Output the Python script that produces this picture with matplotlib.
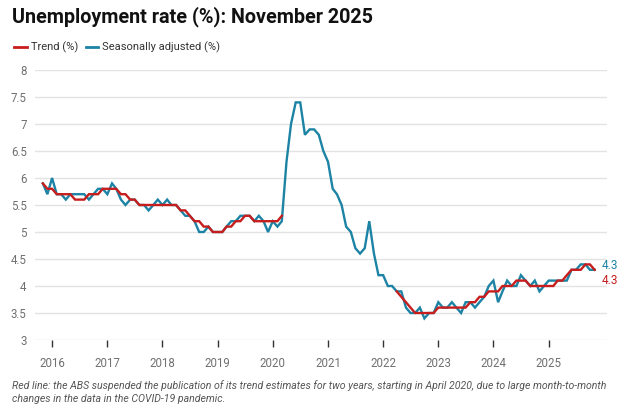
import matplotlib
matplotlib.use("Agg")
import matplotlib.pyplot as plt
import numpy as np
import pandas as pd

# ---- data ----
start_month = "2015-11-01"
seasonally_adjusted = [
    5.9, 5.7, 6.0, 5.7, 5.7, 5.6, 5.7, 5.7, 5.7, 5.7, 5.6, 5.7,
    5.8, 5.8, 5.7, 5.9, 5.8, 5.6, 5.5, 5.6, 5.6, 5.5, 5.5, 5.4,
    5.5, 5.6, 5.5, 5.6, 5.5, 5.5, 5.4, 5.3, 5.3, 5.2, 5.0, 5.0,
    5.1, 5.0, 5.0, 5.0, 5.1, 5.2, 5.2, 5.3, 5.3, 5.3, 5.2, 5.3,
    5.2, 5.0, 5.2, 5.1, 5.2, 6.3, 7.0, 7.4, 7.4, 6.8, 6.9, 6.9,
    6.8, 6.5, 6.3, 5.8, 5.7, 5.5, 5.1, 5.0, 4.7, 4.6, 4.7, 5.2,
    4.6, 4.2, 4.2, 4.0, 4.0, 3.9, 3.9, 3.6, 3.5, 3.5, 3.6, 3.4,
    3.5, 3.5, 3.7, 3.6, 3.6, 3.7, 3.6, 3.5, 3.7, 3.7, 3.6, 3.7,
    3.8, 4.0, 4.1, 3.7, 3.9, 4.1, 4.0, 4.0, 4.2, 4.1, 4.0, 4.1,
    3.9, 4.0, 4.1, 4.1, 4.1, 4.1, 4.1, 4.3, 4.3, 4.4, 4.4, 4.3,
    4.3,
]
nan = float("nan")
trend = [
    5.9, 5.8, 5.8, 5.7, 5.7, 5.7, 5.7, 5.6, 5.6, 5.6, 5.7, 5.7,
    5.7, 5.8, 5.8, 5.8, 5.8, 5.7, 5.7, 5.6, 5.6, 5.5, 5.5, 5.5,
    5.5, 5.5, 5.5, 5.5, 5.5, 5.5, 5.4, 5.4, 5.3, 5.2, 5.2, 5.1,
    5.1, 5.0, 5.0, 5.0, 5.1, 5.1, 5.2, 5.2, 5.3, 5.3, 5.2, 5.2,
    5.2, 5.2, 5.2, 5.2, 5.3, nan, nan, nan, nan, nan, nan, nan,
    nan, nan, nan, nan, nan, nan, nan, nan, nan, nan, nan, nan,
    nan, nan, nan, nan, nan, 3.9, 3.8, 3.7, 3.6, 3.5, 3.5, 3.5,
    3.5, 3.5, 3.6, 3.6, 3.6, 3.6, 3.6, 3.6, 3.6, 3.7, 3.7, 3.8,
    3.8, 3.9, 3.9, 3.9, 4.0, 4.0, 4.0, 4.1, 4.1, 4.1, 4.0, 4.0,
    4.0, 4.0, 4.0, 4.0, 4.1, 4.1, 4.2, 4.3, 4.3, 4.3, 4.4, 4.4,
    4.3,
]
year_ticks = [2016, 2017, 2018, 2019, 2020, 2021, 2022, 2023, 2024, 2025]
y_ticks = [3, 3.5, 4, 4.5, 5, 5.5, 6, 6.5, 7, 7.5, 8]
title = "Unemployment rate (%): November 2025"
legend_labels = ["Trend (%)", "Seasonally adjusted (%)"]
footnote = ("Red line: the ABS suspended the publication of its trend estimates for two years, starting in April 2020, due to large month-to-month\n"
            "changes in the data in the COVID-19 pandemic.")

RED = "#c71e1d"
BLUE = "#1d83a5"

dates = pd.date_range(start_month, periods=len(seasonally_adjusted), freq="MS")

plt.rcParams["font.family"] = ["Roboto", "DejaVu Sans"]

W, H = 640, 409
fig = plt.figure(figsize=(W / 100, H / 100), dpi=100)
ax = fig.add_axes([35 / W, 1 - 340 / H, (607 - 35) / W, (340 - 70) / H])

ax.plot(dates, seasonally_adjusted, color=BLUE, lw=1.7, solid_joinstyle="miter", zorder=3)
ax.plot(dates, trend, color=RED, lw=1.7, solid_joinstyle="miter", zorder=4)

ax.set_ylim(3, 8)
ax.set_xlim(pd.Timestamp("2015-09-10"), pd.Timestamp("2026-01-22"))
ax.set_yticks(y_ticks)
ax.set_yticklabels([f"{v:g}" for v in y_ticks])
ax.set_xticks([pd.Timestamp(f"{y}-01-01") for y in year_ticks])
ax.set_xticklabels([str(y) for y in year_ticks])

ax.grid(axis="y", color="#e3e3e3", lw=1)
ax.set_axisbelow(True)
for s in ax.spines.values():
    s.set_visible(False)
ax.tick_params(axis="y", length=0, pad=6, labelsize=8.3, labelcolor="#707070")
ax.tick_params(axis="x", length=5, width=1, color="#333333", pad=7,
               labelsize=8.3, labelcolor="#707070", direction="out")

# end labels
last = dates[-1]
ax.annotate(f"{seasonally_adjusted[-1]:g}", xy=(last, seasonally_adjusted[-1]),
            xytext=(5, 3), textcoords="offset points", color=BLUE,
            fontsize=8.5, va="center", ha="left", annotation_clip=False)
ax.annotate(f"{trend[-1]:g}", xy=(last, trend[-1]),
            xytext=(5, -8), textcoords="offset points", color=RED,
            fontsize=8.5, va="center", ha="left", annotation_clip=False)

# title
fig.text(12 / W, 1 - 17 / H, title, fontsize=14.2, fontweight="bold",
         color="#111111", va="center", ha="left")

# legend
ly = 1 - 47 / H
fig.add_artist(plt.Line2D([14 / W, 27 / W], [ly, ly], color=RED, lw=2))
fig.text(31 / W, ly, legend_labels[0], fontsize=8, color="#333333", va="center", ha="left")
fig.add_artist(plt.Line2D([86 / W, 98 / W], [ly, ly], color=BLUE, lw=2))
fig.text(102 / W, ly, legend_labels[1], fontsize=8, color="#333333", va="center", ha="left")

# footnote
fig.text(12 / W, 1 - 392 / H, footnote, fontsize=7.6, style="italic", color="#555555",
         va="center", ha="left", linespacing=1.45)

fig.savefig("out.png", dpi=100)
